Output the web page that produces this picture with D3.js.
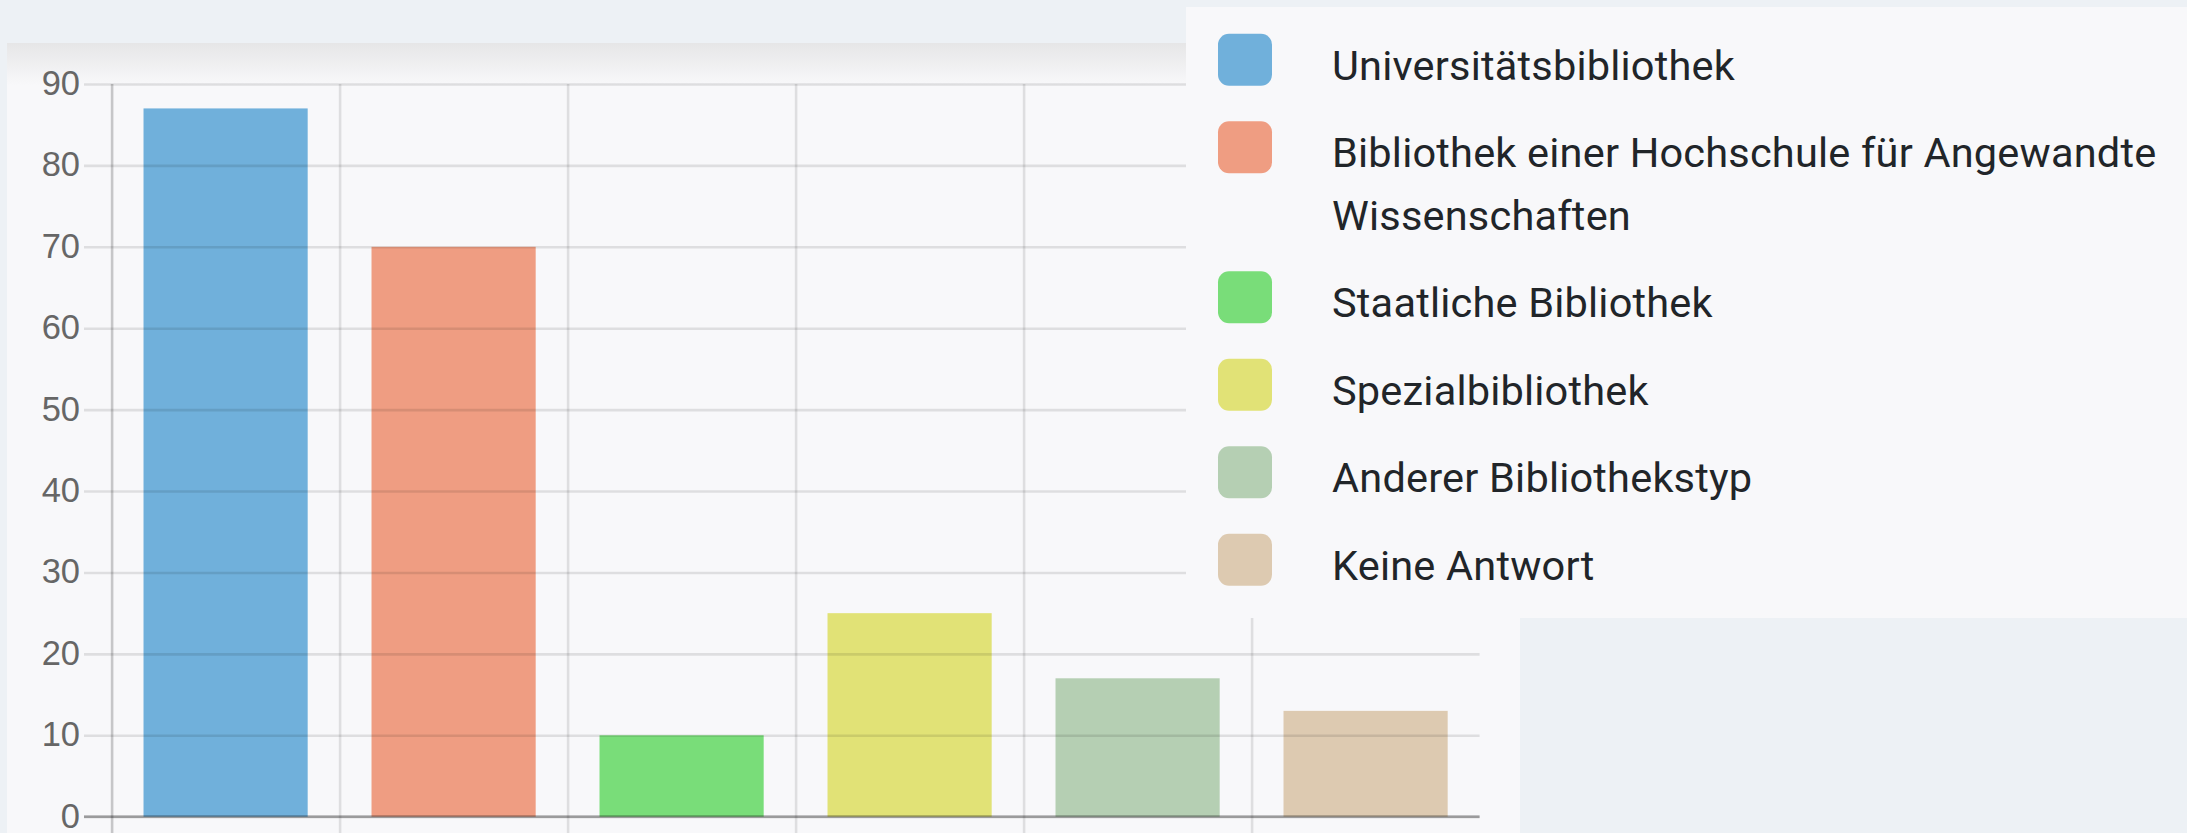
<!DOCTYPE html>
<html>
<head>
<meta charset="utf-8">
<script src="https://cdn.jsdelivr.net/npm/d3@7"></script>
<style>
  html, body { margin: 0; padding: 0; background: #edf1f5; overflow: hidden; }
  svg { display: block; }
</style>
</head>
<body>
<svg id="chart" width="2187" height="833"></svg>
<script>
// data
const categories = [
  'Universitätsbibliothek',
  'Bibliothek einer Hochschule für Angewandte Wissenschaften',
  'Staatliche Bibliothek',
  'Spezialbibliothek',
  'Anderer Bibliothekstyp',
  'Keine Antwort',
];
const counts = [87, 70, 10, 25, 17, 13];
const barColors = ['#70b0db', '#ef9d82', '#79dd79', '#e1e276', '#b5cfb3', '#ddcab1'];
const yTicks = [0, 10, 20, 30, 40, 50, 60, 70, 80, 90];

class BarChart {
  constructor(svgId) {
    this.svg = d3.select(`#${svgId}`);
    this.width = +this.svg.attr('width');
    this.height = +this.svg.attr('height');

    this.plot = { left: 111.6, right: 1479.6, top: 84, bottom: 816.7 };

    this.x = d3.scaleBand()
      .domain(categories)
      .range([this.plot.left, this.plot.right])
      .paddingInner(0.28)
      .paddingOuter(0.14);

    this.y = d3.scaleLinear()
      .domain([0, 90])
      .range([this.plot.bottom, this.plot.top]);
  }

  drawPanel() {
    const defs = this.svg.append('defs');
    const grad = defs.append('linearGradient')
      .attr('id', 'topShade')
      .attr('x1', 0).attr('y1', 0)
      .attr('x2', 0).attr('y2', 1);
    grad.append('stop').attr('offset', '0%').attr('stop-color', '#e6e6e7');
    grad.append('stop').attr('offset', '100%').attr('stop-color', '#f8f8fa');

    this.svg.append('rect')
      .attr('x', 7)
      .attr('y', 43)
      .attr('width', 1513)
      .attr('height', this.height - 43)
      .attr('fill', '#f8f8fa');

    this.svg.append('rect')
      .attr('x', 7)
      .attr('y', 43)
      .attr('width', 1513)
      .attr('height', 42)
      .attr('fill', 'url(#topShade)');
  }

  drawBars() {
    this.svg.append('g')
      .selectAll('rect')
      .data(categories)
      .join('rect')
      .attr('x', (d) => this.x(d))
      .attr('y', (d, i) => this.y(counts[i]))
      .attr('width', this.x.bandwidth())
      .attr('height', (d, i) => this.y(0) - this.y(counts[i]))
      .attr('fill', (d, i) => barColors[i]);
  }

  drawGrid() {
    const tickStart = 84;

    // horizontal grid + y labels
    const yAxis = this.svg.append('g')
      .attr('transform', `translate(${tickStart},0)`)
      .call(d3.axisLeft(this.y)
        .tickValues(yTicks)
        .tickSize(-(this.plot.right - tickStart))
        .tickPadding(4));

    yAxis.select('.domain').remove();
    yAxis.selectAll('line')
      .attr('stroke', 'rgba(0,0,0,0.1)')
      .attr('stroke-width', 2.6);
    yAxis.selectAll('text')
      .attr('fill', '#666')
      .attr('font-family', '"Liberation Sans", Arial, sans-serif')
      .attr('font-size', 34.5)
      .attr('dy', '0.3em');

    // vertical grid at category boundaries
    const bounds = categories.map((d) => this.x(d) - this.x.step() * this.x.paddingInner() / 2);
    const xAxis = this.svg.append('g')
      .attr('transform', `translate(0,${this.plot.top})`)
      .call(d3.axisTop(d3.scaleIdentity())
        .tickValues(bounds)
        .tickSize(-(this.height - this.plot.top))
        .tickFormat(''));

    xAxis.select('.domain').remove();
    xAxis.selectAll('line')
      .attr('stroke', (d, i) => (i === 0 ? 'rgba(0,0,0,0.2)' : 'rgba(0,0,0,0.1)'))
      .attr('stroke-width', 2.6);

    // zero line
    this.svg.append('line')
      .attr('x1', tickStart)
      .attr('x2', this.plot.right)
      .attr('y1', this.y(0))
      .attr('y2', this.y(0))
      .attr('stroke', 'rgba(0,0,0,0.3)')
      .attr('stroke-width', 2.8);
  }

  drawLegend() {
    const legend = this.svg.append('g');

    legend.append('rect')
      .attr('x', 1186)
      .attr('y', 7)
      .attr('width', this.width - 1186)
      .attr('height', 611)
      .attr('fill', '#f8f8fa');

    const lineHeight = 62.5;
    const itemGap = 25;
    const maxWidth = 845;
    let top = 33.7;

    categories.forEach((label, i) => {
      legend.append('rect')
        .attr('x', 1218)
        .attr('y', top)
        .attr('width', 54)
        .attr('height', 52)
        .attr('rx', 11)
        .attr('fill', barColors[i]);

      const text = legend.append('text')
        .attr('x', 1332)
        .attr('y', top + 46)
        .attr('fill', '#212529')
        .attr('font-family', 'Roboto, "Noto Sans", sans-serif')
        .attr('font-size', 41.5)
        .attr('letter-spacing', 0.2);

      // wrap long labels onto several lines
      const words = label.split(' ');
      let line = [];
      let tspan = text.append('tspan').attr('x', 1332).attr('dy', 0);
      let lines = 1;
      words.forEach((w) => {
        line.push(w);
        tspan.text(line.join(' '));
        if (tspan.node().getComputedTextLength() > maxWidth && line.length > 1) {
          line.pop();
          tspan.text(line.join(' '));
          line = [w];
          tspan = text.append('tspan')
            .attr('x', 1332)
            .attr('dy', lineHeight)
            .text(w);
          lines += 1;
        }
      });

      top += lines * lineHeight + itemGap;
    });
  }
}

const chart = new BarChart('chart');
chart.drawPanel();
chart.drawBars();
chart.drawGrid();
chart.drawLegend();
</script>
</body>
</html>
